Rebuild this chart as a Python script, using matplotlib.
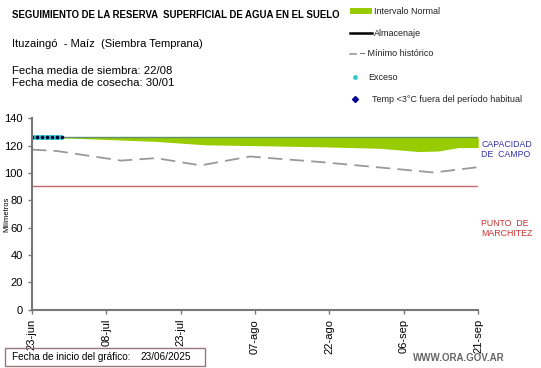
import matplotlib
matplotlib.use('Agg')
import matplotlib.pyplot as plt
import pandas as pd
from matplotlib.patches import Rectangle

plt.rcParams['font.family'] = ['Liberation Sans', 'DejaVu Sans']

# data
normal_dates = ['2025-06-23', '2025-06-30', '2025-07-06', '2025-07-18', '2025-07-28', '2025-08-09',
                '2025-08-21', '2025-09-01', '2025-09-09', '2025-09-13', '2025-09-17', '2025-09-21']
normal_low = [126, 125.5, 124.7, 123, 120.5, 119.8, 119, 118, 115.6, 116, 118.5, 118.5]
capacidad = 126
marchitez = 90.5

min_dates = ['2025-06-23', '2025-06-28', '2025-07-11', '2025-07-18', '2025-07-27', '2025-08-06',
             '2025-08-10', '2025-08-20', '2025-08-30', '2025-09-12', '2025-09-21']
min_hist = [117, 116, 109, 110.8, 105.5, 112, 110.8, 108, 104.7, 100.3, 104.2]

alm_dates = pd.date_range('2025-06-23', '2025-06-29')
almacenaje = [126] * 7
exceso = [126] * 7

tick_dates = pd.date_range('2025-06-23', '2025-09-21', freq='15D')
tick_labels = ['23-jun', '08-jul', '23-jul', '07-ago', '22-ago', '06-sep', '21-sep']

nd = pd.to_datetime(normal_dates)
md = pd.to_datetime(min_dates)

fig = plt.figure(figsize=(5.41, 3.68), dpi=100)
ax = fig.add_axes([0.059, 0.158, 0.825, 0.521])

ax.fill_between(nd, normal_low, [capacidad] * len(nd), color='#99cc00', lw=0)
ax.plot([nd[0], nd[-1]], [capacidad, capacidad], color='#5f8f6f', lw=1)
ax.plot(md, min_hist, color='#999999', lw=1.3, dashes=(8, 4))
ax.axhline(marchitez, color='#cc6666', lw=1)
ax.plot(alm_dates, exceso, color='#33cccc', lw=3.5, solid_capstyle='butt')
ax.plot(alm_dates, almacenaje, ls='none', marker='o', ms=1.6, color='#000033')

ax.set_xlim(nd[0], pd.Timestamp('2025-09-21'))
ax.set_ylim(0, 140)
ax.set_yticks(range(0, 141, 20))
ax.set_xticks(tick_dates)
ax.set_xticklabels(tick_labels, rotation=90)
ax.tick_params(labelsize=8, color='#777777', length=3, width=1)
for s in ['top', 'right']:
    ax.spines[s].set_visible(False)
for s in ['left', 'bottom']:
    ax.spines[s].set_color('#777777')
    ax.spines[s].set_linewidth(1.5)
fig.text(7 / 541, 1 - 214 / 368, 'Milímetros', fontsize=5.5, rotation=90, ha='center', va='center')

fig.text(481 / 541, 1 - 149.5 / 368, 'CAPACIDAD\nDE  CAMPO', color='#3333aa', fontsize=6.3,
         va='center', ha='left', linespacing=1.15)
fig.text(481 / 541, 1 - 228.5 / 368, 'PUNTO  DE\nMARCHITEZ', color='#cc3333', fontsize=6.3,
         va='center', ha='left', linespacing=1.15)

# header
fig.text(12 / 541, 1 - 15 / 368, 'SEGUIMIENTO DE LA RESERVA  SUPERFICIAL DE AGUA EN EL SUELO',
         fontsize=6.9, fontweight='bold', va='center')
fig.text(12 / 541, 1 - 44 / 368, 'Ituzaingó  - Maíz  (Siembra Temprana)', fontsize=8, va='center')
fig.text(12 / 541, 1 - 71 / 368, 'Fecha media de siembra: 22/08', fontsize=8.2, va='center')
fig.text(12 / 541, 1 - 83 / 368, 'Fecha media de cosecha: 30/01', fontsize=8.2, va='center')

# legend
leg = fig.add_axes([0, 0, 1, 1], facecolor='none')
leg.set_xlim(0, 541)
leg.set_ylim(368, 0)
leg.axis('off')
leg.add_patch(Rectangle((350, 8), 22, 6, color='#99cc00', lw=0))
leg.plot([350, 372], [33, 33], color='black', lw=1.8)
leg.plot([350, 356], [54, 54], color='#999999', lw=1.2)
leg.plot([355], [77], ls='none', marker='o', ms=2.5, color='#33cccc')
leg.plot([355], [99], ls='none', marker='D', ms=3, color='#000099')
legend_text = ['Intervalo Normal', 'Almacenaje', '– Mínimo histórico', 'Exceso',
               'Temp <3°C fuera del período habitual']
for txt, yy, xx in zip(legend_text, [11, 33, 54, 77, 99], [374, 374, 360, 368, 372]):
    leg.text(xx, yy, txt, fontsize=6.5, va='center', color='#222222')

leg.add_patch(Rectangle((5, 348), 200, 18, fill=False, edgecolor='#997777', lw=1))
leg.text(12, 357, 'Fecha de inicio del gráfico:', fontsize=7.2, va='center')
leg.text(140, 357, '23/06/2025', fontsize=7.2, va='center')
leg.text(413, 358, 'WWW.ORA.GOV.AR', fontsize=7, fontweight='bold', color='#666666', va='center')

fig.savefig('out.png', dpi=100)
